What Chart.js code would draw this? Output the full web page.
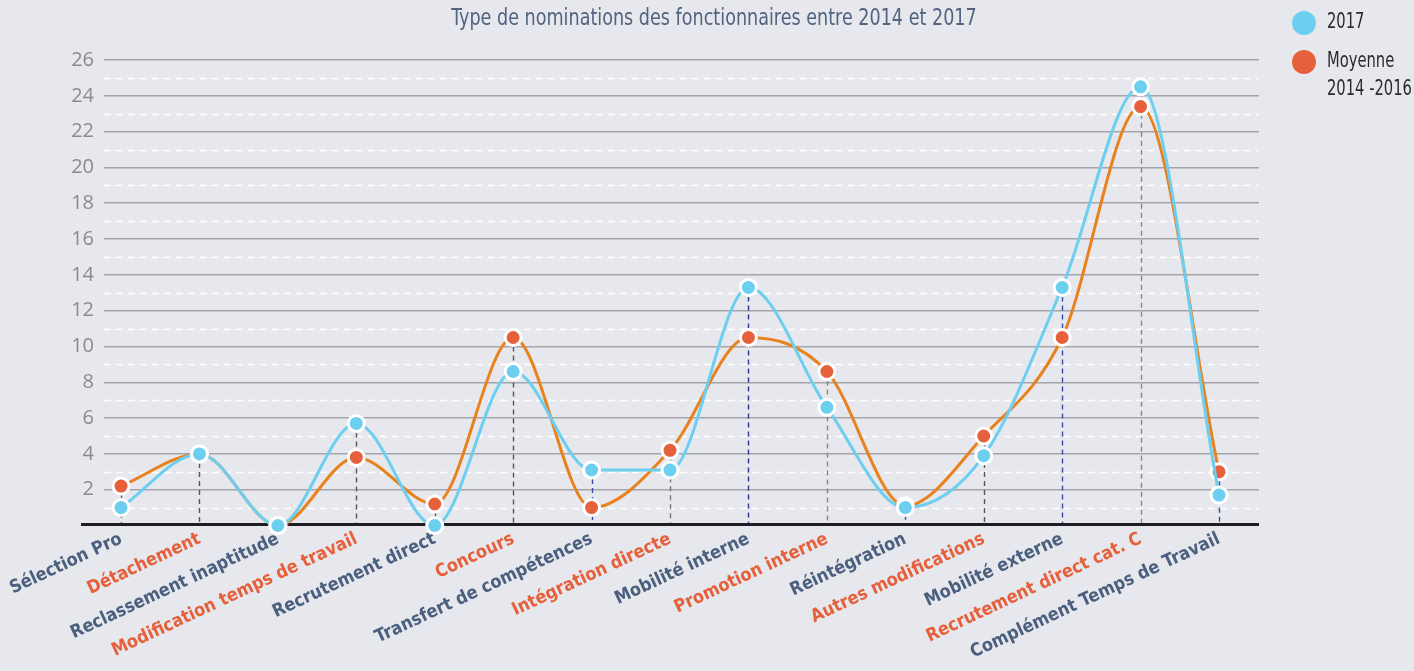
<!DOCTYPE html>
<html>
<head>
<meta charset="utf-8">
<script src="https://cdn.jsdelivr.net/npm/chart.js@4.4.0/dist/chart.umd.min.js"></script>
<style>
  html, body { margin: 0; padding: 0; background: #e7e8ed; }
  #wrap { width: 1414px; height: 671px; }
</style>
</head>
<body>
<div id="wrap"><canvas id="chart" width="1414" height="671"></canvas></div>
<script>
// data
const categories = [
  'Sélection Pro', 'Détachement', 'Reclassement inaptitude', 'Modification temps de travail',
  'Recrutement direct', 'Concours', 'Transfert de compétences', 'Intégration directe',
  'Mobilité interne', 'Promotion interne', 'Réintégration', 'Autres modifications',
  'Mobilité externe', 'Recrutement direct cat. C', 'Complément Temps de Travail'
];
const values2017 = [1, 4, 0, 5.7, 0, 8.6, 3.1, 3.1, 13.3, 6.6, 1, 3.9, 13.3, 24.5, 1.7];
const valuesAvg = [2.2, 4, 0, 3.8, 1.2, 10.5, 1, 4.2, 10.5, 8.6, 1.1, 5, 10.5, 23.4, 3];
const yTickLabels = [2, 4, 6, 8, 10, 12, 14, 16, 18, 20, 22, 24, 26];
const seriesNames = ['2017', ['Moyenne', '2014 -2016']];
const title = 'Type de nominations des fonctionnaires entre 2014 et 2017';

// styles
const BLUE = '#6dcff0';
const ORANGE_LINE = '#e8821e';
const ORANGE_DOT = '#e5603b';
const DARK = '#4b5f7e';
const NARROW = "'DejaVu Sans Condensed', 'DejaVu Sans', sans-serif";
const dropColors = ['#5b5fb0', '#555', '#555', '#555', '#555', '#555', '#3a49a8', '#777',
  '#2a3590', '#888', '#3a49a8', '#555', '#3a49a8', '#888', '#3a49a8'];

// text squeezed sideways to look like the condensed face of the original
function squeezedText(ctx, text, x, y, sx) {
  ctx.save();
  ctx.translate(x, y);
  ctx.scale(sx, 1);
  ctx.fillText(text, 0, 0);
  ctx.restore();
}

// dashed half-step lines, drop lines and the black base axis
const decor = {
  id: 'decor',
  beforeDatasetsDraw(chart) {
    const { ctx, chartArea, scales: { x, y } } = chart;
    ctx.save();
    ctx.strokeStyle = '#ffffff';
    ctx.lineWidth = 1.3;
    ctx.setLineDash([7, 5]);
    for (let v = 1; v < 26; v += 2) {
      const py = Math.round(y.getPixelForValue(v)) + 0.5;
      ctx.beginPath();
      ctx.moveTo(chartArea.left, py);
      ctx.lineTo(chartArea.right, py);
      ctx.stroke();
    }
    ctx.lineWidth = 1.4;
    ctx.setLineDash([5, 4]);
    categories.forEach((c, i) => {
      const top = Math.max(values2017[i], valuesAvg[i]);
      const px = Math.round(x.getPixelForValue(i)) + 0.5;
      ctx.strokeStyle = dropColors[i];
      ctx.beginPath();
      ctx.moveTo(px, y.getPixelForValue(top));
      ctx.lineTo(px, y.getPixelForValue(0));
      ctx.stroke();
    });
    ctx.setLineDash([]);
    ctx.strokeStyle = '#1e1e22';
    ctx.lineWidth = 3;
    const by = y.getPixelForValue(0) - 1;
    ctx.beginPath();
    ctx.moveTo(81, by);
    ctx.lineTo(chartArea.right, by);
    ctx.stroke();
    ctx.restore();
  },
  afterDraw(chart) {
    const { ctx } = chart;
    ctx.save();
    ctx.fillStyle = '#52637f';
    ctx.font = `23px ${NARROW}`;
    ctx.textBaseline = 'middle';
    ctx.textAlign = 'left';
    const tw = ctx.measureText(title).width * 0.85;
    squeezedText(ctx, title, 714 - tw / 2, 19, 0.85);

    // legend
    const dots = [BLUE, ORANGE_DOT];
    const ys = [23, 62];
    ctx.font = `21px ${NARROW}`;
    seriesNames.forEach((name, i) => {
      ctx.fillStyle = dots[i];
      ctx.beginPath();
      ctx.arc(1304, ys[i], 12, 0, Math.PI * 2);
      ctx.fill();
      ctx.fillStyle = '#2b2b2f';
      const lines = Array.isArray(name) ? name : [name];
      lines.forEach((l, k) => squeezedText(ctx, l, 1327, ys[i] + k * 28, 0.78));
    });
    ctx.restore();
  }
};

new Chart(document.getElementById('chart'), {
  type: 'line',
  data: {
    datasets: [
      {
        label: '2017',
        data: values2017.map((v, i) => ({ x: i, y: v })),
        borderColor: BLUE,
        backgroundColor: BLUE,
        pointBackgroundColor: BLUE,
        borderWidth: 3,
        pointRadius: 8,
        pointBorderWidth: 3,
        pointBorderColor: '#ffffff',
        cubicInterpolationMode: 'monotone'
      },
      {
        label: 'Moyenne 2014 -2016',
        data: valuesAvg.map((v, i) => ({ x: i, y: v })),
        borderColor: ORANGE_LINE,
        backgroundColor: ORANGE_DOT,
        pointBackgroundColor: ORANGE_DOT,
        borderWidth: 3,
        pointRadius: 8,
        pointBorderWidth: 3,
        pointBorderColor: '#ffffff',
        cubicInterpolationMode: 'monotone'
      }
    ]
  },
  options: {
    responsive: false,
    animation: false,
    devicePixelRatio: 1,
    events: [],
    clip: false,
    layout: { padding: { left: 0, right: 155, top: 60, bottom: 0 } },
    plugins: { legend: { display: false }, tooltip: { enabled: false } },
    scales: {
      x: {
        type: 'linear',
        min: -0.217,
        max: 14.51,
        bounds: 'data',
        afterBuildTicks: s => { s.ticks = categories.map((c, i) => ({ value: i })); },
        afterFit: s => { s.height = 145.5; s.paddingLeft = 0; s.paddingRight = 0; },
        grid: { display: false, drawTicks: false },
        border: { display: false },
        ticks: {
          autoSkip: false,
          minRotation: 25,
          maxRotation: 25,
          padding: 3,
          font: { family: NARROW, size: 18, weight: 'bold' },
          color: c => (c.index % 2 ? ORANGE_DOT : DARK),
          callback: v => categories[v]
        }
      },
      y: {
        min: 0,
        max: 26,
        afterFit: s => { s.width = 104; },
        border: { display: false },
        grid: {
          drawTicks: false,
          lineWidth: 1.5,
          color: c => (yTickLabels.includes(c.tick.value) ? '#a4a4aa' : 'transparent')
        },
        ticks: {
          stepSize: 1,
          autoSkip: false,
          padding: 10,
          color: '#8a8a8f',
          font: { family: "'Open Sans', sans-serif", size: 20 },
          callback: v => (yTickLabels.includes(v) ? String(v) : '')
        }
      }
    }
  },
  plugins: [decor]
});
</script>
</body>
</html>
